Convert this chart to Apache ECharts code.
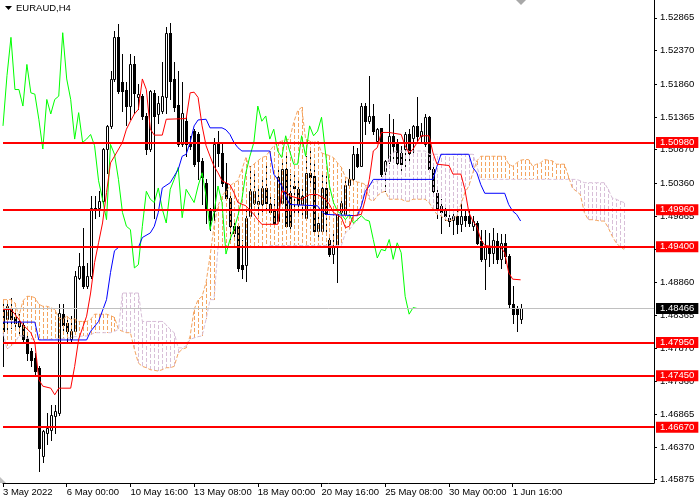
<!DOCTYPE html>
<html><head><meta charset="utf-8">
<script src="https://cdn.jsdelivr.net/npm/echarts@6.0.0/dist/echarts.min.js"></script>
<style>html,body{margin:0;padding:0;background:#fff}#c{width:700px;height:500px}</style>
</head><body><div id="c"></div>
<script>
// ---- data ----
const symbolTitle = 'EURAUD,H4';
const timeTickLabels = ['3 May 2022','6 May 00:00','10 May 16:00','13 May 08:00','18 May 00:00','20 May 16:00','25 May 08:00','30 May 00:00','1 Jun 16:00'];
const barsPerTimeTick = 16;
const priceTickLabels = [1.52865,1.52370,1.51860,1.51365,1.50870,1.50360,1.49865,1.49370,1.48860,1.48365,1.47870,1.47360,1.46865,1.46370,1.45875];
const levelLines = [1.50980,1.49960,1.49400,1.47950,1.47450,1.46670];
const lastPrice = 1.48466;
// candles: [open, close, low, high], one per H4 bar
const candles = [
[1.4845,1.4812,1.4760,1.4860],[1.4830,1.4850,1.4815,1.4860],[1.4848,1.4830,1.4817,1.4863],[1.4833,1.4825,1.4815,1.4843],
[1.4827,1.4820,1.4810,1.4838],[1.4822,1.4800,1.4795,1.4830],[1.4800,1.4779,1.4769,1.4805],[1.4782,1.4769,1.4759,1.4787],
[1.4772,1.4752,1.4747,1.4779],[1.4757,1.4636,1.4600,1.4759],[1.4623,1.4661,1.4615,1.4663],[1.4658,1.4666,1.4641,1.4689],
[1.4663,1.4686,1.4648,1.4701],[1.4684,1.4691,1.4658,1.4701],[1.4689,1.4840,1.4686,1.4853],[1.4838,1.4822,1.4810,1.4853],
[1.4825,1.4812,1.4797,1.4830],[1.4800,1.4812,1.4797,1.4835],[1.4812,1.4896,1.4810,1.4903],[1.4893,1.4911,1.4891,1.4931],
[1.4911,1.4881,1.4878,1.4969],[1.4881,1.4896,1.4878,1.4916],[1.4896,1.4999,1.4893,1.5017],[1.4999,1.4997,1.4984,1.5017],
[1.4999,1.5009,1.4987,1.5024],[1.5009,1.5088,1.5007,1.5090],[1.5088,1.5123,1.5052,1.5125],[1.5123,1.5194,1.5120,1.5206],
[1.5194,1.5257,1.5191,1.5267],[1.5257,1.5176,1.5173,1.5277],[1.5189,1.5176,1.5146,1.5232],[1.5178,1.5153,1.5125,1.5189],
[1.5153,1.5216,1.5133,1.5232],[1.5216,1.5173,1.5143,1.5229],[1.5166,1.5171,1.5148,1.5186],[1.5168,1.5138,1.5133,1.5171],
[1.5138,1.5088,1.5080,1.5143],[1.5088,1.5176,1.5085,1.5178],[1.5173,1.5138,1.4984,1.5178],[1.5141,1.5158,1.5128,1.5168],
[1.5146,1.5168,1.5143,1.5219],[1.5166,1.5264,1.5143,1.5272],[1.5264,1.5191,1.5163,1.5279],[1.5194,1.5151,1.5146,1.5219],
[1.5154,1.5095,1.5093,1.5206],[1.5095,1.5143,1.5093,1.5189],[1.5130,1.5095,1.5077,1.5138],[1.5098,1.5093,1.5088,1.5108],
[1.5115,1.5065,1.5062,1.5118],[1.5110,1.5070,1.5042,1.5113],[1.5070,1.5045,1.5004,1.5075],[1.5037,1.4997,1.4976,1.5042],
[1.4997,1.4981,1.4966,1.4999],[1.4994,1.5095,1.4981,1.5105],[1.5095,1.5082,1.5062,1.5115],[1.5082,1.5037,1.5032,1.5098],
[1.5037,1.5014,1.5012,1.5067],[1.5014,1.4971,1.4951,1.5017],[1.4971,1.4961,1.4951,1.4981],[1.4971,1.4908,1.4903,1.4974],
[1.4913,1.4906,1.4893,1.4951],[1.4913,1.4984,1.4888,1.5002],[1.4987,1.5024,1.4984,1.5062],[1.5007,1.5024,1.5004,1.5052],
[1.5004,1.5009,1.4984,1.5032],[1.5004,1.5029,1.4992,1.5047],[1.5029,1.5007,1.4997,1.5067],[1.5004,1.4992,1.4992,1.5022],
[1.4994,1.4976,1.4974,1.5012],[1.4979,1.5045,1.4976,1.5062],[1.5007,1.5057,1.5004,1.5072],[1.5057,1.4971,1.4971,1.5082],
[1.5022,1.4971,1.4969,1.5050],[1.5032,1.5029,1.4992,1.5055],[1.5027,1.5004,1.4992,1.5042],[1.5004,1.5017,1.4987,1.5032],
[1.4984,1.5052,1.4984,1.5077],[1.5052,1.5045,1.5034,1.5088],[1.5047,1.4964,1.4961,1.5072],[1.4964,1.4976,1.4951,1.4987],
[1.4964,1.5029,1.4961,1.5052],[1.5029,1.4989,1.4961,1.5052],[1.4951,1.4929,1.4926,1.4954],[1.4929,1.4941,1.4916,1.4961],
[1.4939,1.4989,1.4886,1.4992],[1.4992,1.5007,1.4989,1.5009],[1.4989,1.5034,1.4987,1.5042],[1.5034,1.5042,1.5032,1.5057],
[1.5042,1.5080,1.5040,1.5093],[1.5080,1.5062,1.5060,1.5090],[1.5062,1.5153,1.5062,1.5158],[1.5153,1.5130,1.5110,1.5158],
[1.5130,1.5138,1.5128,1.5199],[1.5138,1.5115,1.5110,1.5156],[1.5100,1.5118,1.5098,1.5120],[1.5120,1.5050,1.5047,1.5120],
[1.5055,1.5070,1.5024,1.5072],[1.5070,1.5108,1.5067,1.5141],[1.5108,1.5093,1.5072,1.5133],[1.5095,1.5067,1.5062,1.5103],
[1.5082,1.5065,1.5050,1.5093],[1.5088,1.5110,1.5062,1.5113],[1.5110,1.5082,1.5067,1.5118],[1.5105,1.5123,1.5077,1.5125],
[1.5123,1.5108,1.5098,1.5166],[1.5108,1.5115,1.5098,1.5128],[1.5095,1.5136,1.5093,1.5141],[1.5136,1.5057,1.5055,1.5138],
[1.5057,1.5024,1.5022,1.5060],[1.5022,1.4997,1.4984,1.5027],[1.5002,1.4992,1.4961,1.5012],[1.4997,1.4987,1.4981,1.5002],
[1.4984,1.4979,1.4971,1.5002],[1.4981,1.4987,1.4959,1.4992],[1.4987,1.4974,1.4961,1.5002],[1.4974,1.4987,1.4964,1.5004],
[1.4987,1.4981,1.4971,1.4997],[1.4987,1.4976,1.4971,1.4994],[1.4971,1.4979,1.4966,1.4987],[1.4976,1.4946,1.4944,1.4979],
[1.4949,1.4921,1.4919,1.4966],[1.4921,1.4941,1.4876,1.4966],[1.4941,1.4931,1.4911,1.4961],[1.4931,1.4951,1.4916,1.4969],
[1.4949,1.4921,1.4916,1.4961],[1.4921,1.4946,1.4908,1.4959],[1.4946,1.4926,1.4916,1.4959],[1.4926,1.4853,1.4848,1.4929],
[1.4853,1.4838,1.4825,1.4881],[1.4848,1.4838,1.4812,1.4850],[1.4830,1.48466,1.4825,1.4853]
];
// Ichimoku lines: [bar, price] vertices
const tenkan = [[0,1.4845],[2,1.4845],[3,1.4838],[5,1.4822],[7,1.4810],[8,1.4795],[9,1.4739],[10,1.4729],[12,1.4726],[13,1.4716],[14,1.4726],[17,1.4726],[18,1.4759],[19,1.4800],[21,1.4835],[22,1.4870],[23,1.4916],[24,1.4946],[25,1.4976],[26,1.5022],[27,1.5067],[28,1.5077],[30,1.5098],[31,1.5118],[32,1.5130],[33,1.5141],[34,1.5148],[35,1.5194],[36,1.5178],[37,1.5118],[38,1.5109],[40,1.5109],[41,1.5133],[46,1.5134],[47,1.5173],[48,1.5174],[49,1.5166],[50,1.5123],[51,1.5093],[52,1.5077],[53,1.5062],[54,1.5052],[55,1.5040],[57,1.5034],[58,1.5022],[59,1.5007],[61,1.5002],[63,1.4989],[64,1.4981],[65,1.4974],[69,1.4974],[70,1.5024],[71,1.5024],[72,1.5017],[75,1.5012],[77,1.5019],[79,1.5019],[81,1.5012],[82,1.5004],[83,1.4992],[85,1.4984],[86,1.4969],[87,1.4971],[88,1.4987],[90,1.4989],[91,1.5012],[92,1.5042],[93,1.5085],[94,1.5090],[95,1.5113],[97,1.5113],[100,1.5110],[101,1.5093],[102,1.5082],[103,1.5088],[105,1.5108],[107,1.5108],[108,1.5082],[109,1.5065],[112,1.5063],[113,1.5050],[115,1.5050],[116,1.5027],[117,1.4992],[118,1.4979],[119,1.4971],[120,1.4951],[121,1.4942],[125,1.4939],[126,1.4931],[127,1.4901],[128,1.4891],[130,1.4890]];
const kijun = [[0,1.4826],[8,1.4826],[9,1.4799],[21,1.4799],[22,1.4812],[24,1.4827],[26,1.4860],[27,1.4901],[28,1.4934],[29,1.4939],[34,1.4939],[35,1.4954],[37,1.4961],[38,1.4971],[39,1.4992],[40,1.5029],[42,1.5037],[43,1.5047],[44,1.5057],[45,1.5077],[46,1.5080],[47,1.5098],[48,1.5123],[49,1.5132],[51,1.5133],[52,1.5120],[55,1.5120],[56,1.5117],[57,1.5110],[58,1.5098],[59,1.5090],[60,1.5085],[67,1.5085],[68,1.5050],[69,1.5042],[70,1.5032],[71,1.5017],[72,1.5004],[79,1.5002],[80,1.4994],[81,1.4989],[89,1.4987],[90,1.5002],[91,1.5024],[92,1.5032],[93,1.5042],[108,1.5042],[109,1.5062],[110,1.5080],[117,1.5080],[118,1.5060],[119,1.5052],[120,1.5034],[121,1.5021],[126,1.5021],[127,1.5004],[128,1.4994],[129,1.4989],[130,1.4979]];
// Chikou span, one value per bar from bar 0
const chikou = [1.5123,1.5199,1.5257,1.5178,1.5178,1.5153,1.5216,1.5173,1.5171,1.5133,
1.5088,1.5163,1.5141,1.5163,1.5168,1.5264,1.5194,1.5163,1.5103,1.5143,
1.5098,1.5103,1.5110,1.5093,1.5040,1.5012,1.4981,1.5095,1.5080,1.5042,
1.4992,1.4971,1.4966,1.4908,1.4913,1.4971,1.5024,1.5012,1.5007,1.5029,
1.4997,1.4976,1.5027,1.5042,1.5060,1.4984,1.5027,1.5017,1.5007,1.5032,
1.5052,1.5017,1.4966,1.4992,1.5032,1.5007,1.4929,1.4951,1.4966,1.4987,
1.5012,1.5052,1.5077,1.5098,1.5153,1.5130,1.5138,1.5103,1.5118,1.5085,
1.5075,1.5108,1.5085,1.5065,1.5065,1.5108,1.5077,1.5123,1.5108,1.5115,
1.5136,1.5082,1.5032,1.5007,1.4994,1.4989,1.4981,1.4989,1.4976,1.4981,
1.4987,1.4981,1.4979,1.4951,1.4923,1.4936,1.4934,1.4951,1.4921,1.4946,
1.4931,1.4865,1.4838,1.4848,1.48466];
// Senkou spans, one value per bar from bar 0 (cloud runs 26 bars ahead)
const spanA = [1.4860,1.4860,1.4860,1.4855,1.4835,1.4858,1.4865,1.4865,1.4863,1.4853,
1.4850,1.4850,1.4848,1.4845,1.4833,1.4830,1.4835,1.4830,1.4831,1.4827,
1.4827,1.4827,1.4830,1.4838,1.4838,1.4838,1.4838,1.4836,1.4833,1.4815,
1.4812,1.4810,1.4810,1.4785,1.4764,1.4759,1.4757,1.4754,1.4753,1.4752,
1.4754,1.4757,1.4757,1.4759,1.4779,1.4785,1.4787,1.4805,1.4845,1.4860,
1.4865,1.4886,1.4926,1.4971,1.5002,1.5017,1.5024,1.5032,1.5037,1.5040,
1.5057,1.5075,1.5060,1.5065,1.5070,1.5075,1.5077,1.5085,1.5093,1.5098,
1.5100,1.5102,1.5103,1.5128,1.5146,1.5151,1.5103,1.5100,1.5098,1.5100,
1.5082,1.5080,1.5078,1.5075,1.5067,1.5060,1.5045,1.5043,1.5040,1.5038,
1.5037,1.5034,1.5012,1.5009,1.5017,1.5022,1.5024,1.5012,1.5012,1.5012,
1.5012,1.5009,1.5009,1.5012,1.5012,1.5012,1.5012,1.5007,1.4997,1.4989,
1.4987,1.4981,1.4979,1.4981,1.4987,1.5004,1.5022,1.5032,1.5052,1.5070,
1.5077,1.5077,1.5077,1.5077,1.5077,1.5077,1.5077,1.5065,1.5062,1.5067,
1.5071,1.5072,1.5072,1.5062,1.5065,1.5067,1.5072,1.5071,1.5070,1.5065,
1.5065,1.5065,1.5047,1.5029,1.5024,1.5019,1.4992,1.4981,1.4981,1.4980,
1.4979,1.4979,1.4969,1.4956,1.4946,1.4940,1.4936];
const spanB = [1.4810,1.4785,1.4790,1.4795,1.4805,1.4805,1.4802,1.4800,1.4800,1.4800,
1.4800,1.4800,1.4800,1.4800,1.4801,1.4801,1.4802,1.4802,1.4804,1.4804,
1.4805,1.4805,1.4807,1.4810,1.4810,1.4810,1.4810,1.4810,1.4812,1.4815,
1.4870,1.4870,1.4870,1.4870,1.4870,1.4827,1.4827,1.4827,1.4827,1.4827,
1.4827,1.4822,1.4815,1.4810,1.4787,1.4787,1.4790,1.4800,1.4802,1.4804,
1.4805,1.4830,1.4860,1.4860,1.4939,1.4939,1.4939,1.4939,1.4939,1.4939,
1.4939,1.4939,1.4939,1.4939,1.4939,1.4939,1.4939,1.4942,1.4942,1.4942,
1.4942,1.4942,1.4942,1.4942,1.4942,1.4942,1.4942,1.4942,1.4942,1.4942,
1.4942,1.4942,1.4942,1.4942,1.4942,1.4942,1.4961,1.4966,1.4974,1.4979,
1.5002,1.5032,1.5034,1.5038,1.5040,1.5042,1.5052,1.5077,1.5083,1.5085,
1.5085,1.5085,1.5085,1.5085,1.5085,1.5085,1.5085,1.5080,1.5080,1.5080,
1.5080,1.5080,1.5080,1.5080,1.5080,1.5080,1.5080,1.5080,1.5080,1.5062,
1.5042,1.5042,1.5042,1.5042,1.5042,1.5042,1.5042,1.5042,1.5042,1.5042,
1.5042,1.5042,1.5042,1.5042,1.5042,1.5042,1.5042,1.5042,1.5042,1.5042,
1.5042,1.5042,1.5042,1.5042,1.5042,1.5040,1.5037,1.5037,1.5037,1.5037,
1.5037,1.5037,1.5027,1.5014,1.5012,1.5009,1.5007];

// ---- chart ----
const FONT = 'Liberation Sans';
const chart = echarts.init(document.getElementById('c'), null, {renderer:'canvas', width:700, height:500});
const timeTickValues = timeTickLabels.map((_, k) => k * barsPerTimeTick);

const candleData = candles.map((c, i) => [i, c[0], c[1], c[2], c[3]]);
const cloudData = spanA.map((a, i) => [i, a, spanB[i]]);

const markLabel = (bg) => ({show:true, position:'end', distance:2, formatter: p => Number(p.value).toFixed(5),
  color:'#ffffff', backgroundColor:bg, padding:[1,4,0,4], fontFamily:FONT, fontSize:9.5, lineHeight:10});
const levelMarks = levelLines.map(v => ({
  yAxis: v, lineStyle: {color:'#ff0000', width:2, type:'solid'}, label: markLabel('#ff0000')
}));
levelMarks.push({yAxis: lastPrice, lineStyle: {color:'#c0c0c0', width:1, type:'solid'}, label: markLabel('#000000')});

const option = {
  animation:false,
  backgroundColor:'#ffffff',
  grid:{left:0, top:0, right:46, bottom:17, containLabel:false},
  xAxis:{
    type:'value', min:0, max:163.5, interval:barsPerTimeTick,
    splitLine:{show:false},
    axisLine:{show:true, onZero:false, lineStyle:{color:'#000', width:1}},
    axisTick:{show:true, length:4, inside:false, customValues: timeTickValues, lineStyle:{color:'#000'}},
    axisLabel:{show:true, customValues: timeTickValues, align:'left', margin:4, color:'#000',
      fontFamily:FONT, fontSize:9.5,
      formatter: v => timeTickLabels[Math.round(v / barsPerTimeTick)] || ''}
  },
  yAxis:{
    type:'value', position:'right', min:1.45825, max:1.53135, scale:true,
    splitLine:{show:false},
    axisLine:{show:true, onZero:false, lineStyle:{color:'#000', width:1}},
    axisTick:{show:true, length:3, inside:false, customValues: priceTickLabels, lineStyle:{color:'#000'}},
    axisLabel:{show:true, customValues: priceTickLabels, margin:6, color:'#000',
      fontFamily:FONT, fontSize:9.5, formatter: v => Number(v).toFixed(5)}
  },
  series:[
    {
      name:'candles', type:'custom', z:2, clip:true,
      data:candleData, encode:{x:0, y:[1,2,3,4]},
      renderItem:(params, api) => {
        const i = api.value(0), o = api.value(1), c = api.value(2), l = api.value(3), h = api.value(4);
        const po = api.coord([i, o]), pc = api.coord([i, c]), pl = api.coord([i, l]), ph = api.coord([i, h]);
        const x = Math.round(po[0]);
        const yo = Math.round(po[1]), yc = Math.round(pc[1]), yl = Math.round(pl[1]), yh = Math.round(ph[1]);
        const top = Math.min(yo, yc), bot = Math.max(yo, yc);
        const kids = [{type:'line', shape:{x1:x+0.5, y1:yh, x2:x+0.5, y2:yl+1}, style:{stroke:'#000', lineWidth:1}}];
        if (c >= o) {
          kids.push({type:'rect', shape:{x:x-0.5, y:top+0.5, width:2, height:Math.max(bot-top, 1)}, style:{fill:'#fff', stroke:'#000', lineWidth:1}});
        } else {
          kids.push({type:'rect', shape:{x:x-1, y:top, width:3, height:Math.max(bot-top+1, 1)}, style:{fill:'#000'}});
        }
        return {type:'group', children:kids};
      }
    },
    {
      name:'cloud', type:'custom', z:3, clip:true,
      data:cloudData, encode:{x:0, y:[1,2]},
      renderItem:(params, api) => {
        const i = api.value(0), a = api.value(1), b = api.value(2);
        const pa = api.coord([i, a]), pb = api.coord([i, b]);
        const x = Math.round(pa[0]) + 0.5;
        return {type:'line', shape:{x1:x, y1:Math.round(pa[1]), x2:x, y2:Math.round(pb[1])},
          style:{stroke: a >= b ? '#F4A460' : '#D8BFD8', lineWidth:1, lineDash:[4,2]}};
      }
    },
    {name:'spanA', type:'line', z:3, showSymbol:false, symbol:'none', silent:true,
      data: spanA.map((v, i) => [i, v]), lineStyle:{color:'#F4A460', width:1, type:[4,2]}},
    {name:'spanB', type:'line', z:3, showSymbol:false, symbol:'none', silent:true,
      data: spanB.map((v, i) => [i, v]), lineStyle:{color:'#D8BFD8', width:1, type:[4,2]}},
    {name:'chikou', type:'line', z:4, showSymbol:false, symbol:'none', silent:true,
      data: chikou.map((v, i) => [i, v]), lineStyle:{color:'#00ff00', width:1}},
    {name:'kijun', type:'line', z:4, showSymbol:false, symbol:'none', silent:true,
      data: kijun, lineStyle:{color:'#0000ff', width:1}},
    {name:'tenkan', type:'line', z:5, showSymbol:false, symbol:'none', silent:true,
      data: tenkan, lineStyle:{color:'#ff0000', width:1},
      markLine:{silent:true, precision:5, symbol:['none','none'], animation:false, data: levelMarks}}
  ],
  graphic:[
    {type:'polygon', left:5, top:6, shape:{points:[[0,0],[7,0],[3.5,4]]}, style:{fill:'#000'}},
    {type:'text', left:16, top:3, style:{text:symbolTitle, fill:'#000', font:'9.5px "Liberation Sans"'}},
    {type:'polygon', left:516, top:0, shape:{points:[[0,0],[10,0],[5,5]]}, style:{fill:'#a8a8a8'}},
    {type:'polygon', left:0, top:477, shape:{points:[[0,0],[0,6],[6,6]]}, style:{fill:'#c0c0c0'}}
  ]
};
chart.setOption(option);
</script></body></html>
